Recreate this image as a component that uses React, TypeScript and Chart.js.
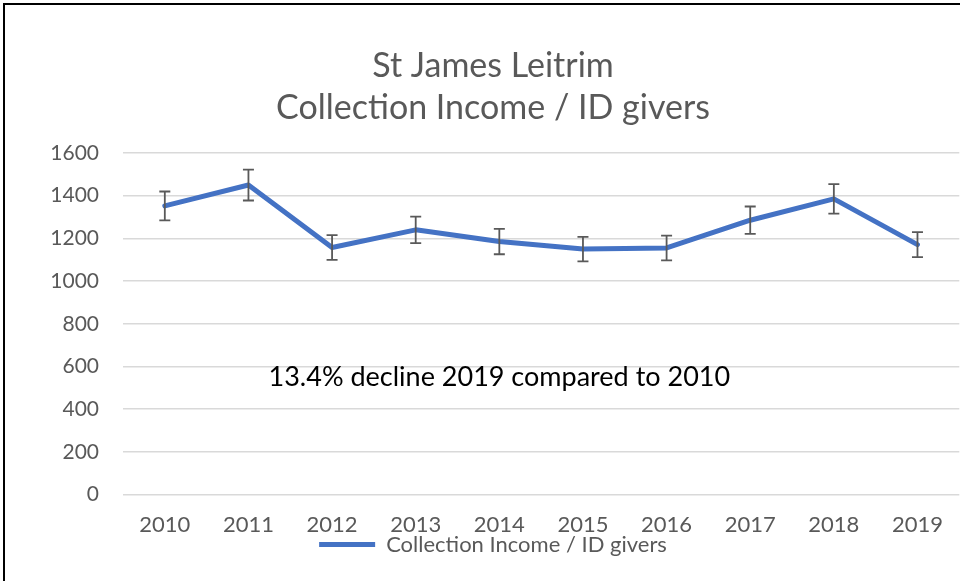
import React, { useEffect, useRef } from "react";
import { Chart, registerables } from "chart.js";

Chart.register(...registerables);

const titleLines = ["St James Leitrim", "Collection Income / ID givers"];
const seriesName = "Collection Income / ID givers";
const years = ["2010", "2011", "2012", "2013", "2014", "2015", "2016", "2017", "2018", "2019"];
const incomePerGiver = [1352, 1450, 1157, 1240, 1185, 1150, 1155, 1285, 1385, 1171];
const errorPercent = 5;
const yMin = 0;
const yMax = 1600;
const yStep = 200;
const annotationText = "13.4% decline 2019 compared to 2010";
const annotationCategory = "2014";
const annotationValue = 550;

const FONT = "Lato, 'Open Sans', sans-serif";
const GREY = "#595959";
const BLUE = "#4472C4";

const framePlugin = {
  id: "frame",
  beforeDraw(chart: any) {
    const { ctx, width, height } = chart;
    ctx.save();
    ctx.fillStyle = "#ffffff";
    ctx.fillRect(0, 0, width, height);
    ctx.fillStyle = "#000000";
    ctx.fillRect(3, 3, 2, height);
    ctx.fillRect(3, 3, width, 2);
    ctx.restore();
  },
};

// Let the legend sit closer to the axis labels, as in the original
const legendShiftPlugin = {
  id: "legendShift",
  afterLayout(chart: any) {
    const lg = chart.legend;
    if (!lg) return;
    const desiredTop = chart.chartArea.bottom + 39;
    const dy = desiredTop - lg.top;
    lg.top += dy;
    lg.bottom += dy;
  },
};

const errorBarPlugin = {
  id: "errorBars",
  afterDatasetsDraw(chart: any) {
    const { ctx } = chart;
    const xs = chart.scales.x;
    const ys = chart.scales.y;
    ctx.save();
    ctx.strokeStyle = GREY;
    ctx.lineWidth = 1.8;
    incomePerGiver.forEach((v, i) => {
      const x = xs.getPixelForValue(i);
      const top = ys.getPixelForValue(v * (1 + errorPercent / 100));
      const bot = ys.getPixelForValue(v * (1 - errorPercent / 100));
      const cap = 5.5;
      ctx.beginPath();
      ctx.moveTo(x, top);
      ctx.lineTo(x, bot);
      ctx.moveTo(x - cap, top);
      ctx.lineTo(x + cap, top);
      ctx.moveTo(x - cap, bot);
      ctx.lineTo(x + cap, bot);
      ctx.stroke();
    });
    ctx.restore();
  },
};

const annotationPlugin = {
  id: "annotationText",
  afterDraw(chart: any) {
    const { ctx } = chart;
    const x = chart.scales.x.getPixelForValue(years.indexOf(annotationCategory));
    const y = chart.scales.y.getPixelForValue(annotationValue);
    ctx.save();
    ctx.font = `27px ${FONT}`;
    ctx.fillStyle = "#000000";
    ctx.textAlign = "center";
    ctx.textBaseline = "middle";
    ctx.fillText(annotationText, x, y);
    ctx.restore();
  },
};

export default function App() {
  const ref = useRef<HTMLCanvasElement>(null);

  useEffect(() => {
    if (!ref.current) return;
    const chart = new Chart(ref.current, {
      type: "line",
      data: {
        labels: years,
        datasets: [
          {
            label: seriesName,
            data: incomePerGiver,
            borderColor: BLUE,
            backgroundColor: BLUE,
            borderWidth: 5,
            borderCapStyle: "round",
            borderJoinStyle: "round",
            pointRadius: 0,
            pointHoverRadius: 0,
            pointStyle: "line",
            tension: 0,
          },
        ],
      },
      options: {
        responsive: false,
        animation: false,
        layout: { padding: { left: 26, right: 0, top: 0, bottom: -6 } },
        plugins: {
          title: {
            display: true,
            text: titleLines,
            color: GREY,
            font: { family: FONT, size: 34, weight: "normal", lineHeight: 1.235 },
            padding: { top: 45, bottom: 24 },
          },
          legend: {
            position: "bottom",
            labels: {
              color: GREY,
              font: { family: FONT, size: 22 },
              usePointStyle: true,
              pointStyleWidth: 56,
              padding: 0,
            },
          },
          tooltip: { enabled: false },
        },
        scales: {
          x: {
            offset: true,
            grid: { display: false, drawTicks: false },
            border: { display: false },
            ticks: { color: GREY, font: { family: FONT, size: 22 }, padding: 17, maxRotation: 0 },
          },
          y: {
            min: yMin,
            max: yMax,
            afterFit(scale: any) {
              scale.width = 97;
            },
            grid: { color: "#d9d9d9", lineWidth: 1.5, drawTicks: false },
            border: { display: false },
            ticks: {
              stepSize: yStep,
              color: GREY,
              font: { family: FONT, size: 21 },
              padding: 24,
              callback: (v: any) => String(v),
            },
          },
        },
      },
      plugins: [framePlugin, legendShiftPlugin, errorBarPlugin, annotationPlugin],
    } as any);
    return () => chart.destroy();
  }, []);

  return (
    <div style={{ position: "fixed", left: 0, top: 0, width: 960, height: 581 }}>
      <canvas ref={ref} width={960} height={581} />
    </div>
  );
}
